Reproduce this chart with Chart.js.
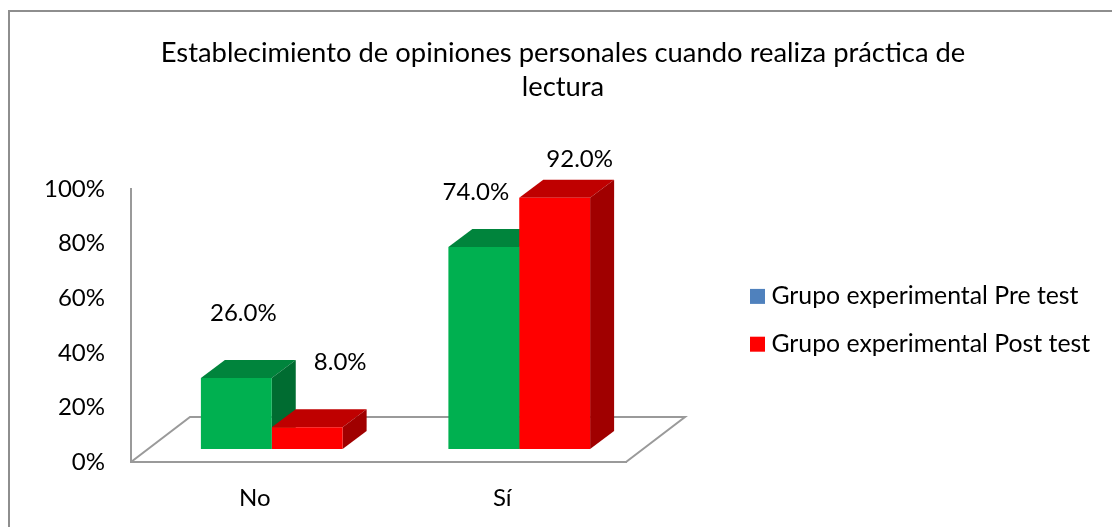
<!DOCTYPE html>
<html><head><meta charset="utf-8">
<style>html,body{margin:0;padding:0;background:#fff}canvas{display:block}</style>
<script src="https://cdn.jsdelivr.net/npm/chart.js@4/dist/chart.umd.js"></script>
</head><body>
<canvas id="c" width="1112" height="527" style="width:1112px;height:527px"></canvas>
<script>
const categories = ["No", "Sí"];
const seriesNames = ["Grupo experimental Pre test", "Grupo experimental Post test"];
const preTest = [26, 74];
const postTest = [8, 92];
const titleLines = ["Establecimiento de opiniones personales cuando realiza práctica de", "lectura"];

const FONT = "Lato, Carlito, Calibri, sans-serif";
const faces = [
  {front:"#00B050", top:"#00843C", side:"#006C31", legend:"#4F81BD"},
  {front:"#FF0000", top:"#BF0000", side:"#A00000", legend:"#FF0000"}
];
const SHIFT = {x:17, y:-13};     // bars stand in the middle of the floor's depth
const DEPTH = {x:24, y:-18};     // bar depth
const FLOOR = {x:59, y:-45};     // floor depth
const labelNudge = [[[7,-65],[-8,-55]],[[33,-65],[25,-39]]];

function poly(ctx, pts, fill){
  ctx.beginPath();
  pts.forEach((p,i)=> i?ctx.lineTo(p[0],p[1]):ctx.moveTo(p[0],p[1]));
  ctx.closePath();
  ctx.fillStyle = fill;
  ctx.fill();
}

const scene = {
  id:"scene",
  beforeDraw(chart){
    const ctx = chart.ctx;
    ctx.save();
    ctx.fillStyle = "#fff";
    ctx.fillRect(0,0,chart.width,chart.height);
    ctx.strokeStyle = "#8E8E8E";
    ctx.lineWidth = 2;
    ctx.beginPath();
    ctx.moveTo(9,527); ctx.lineTo(9,11); ctx.lineTo(1112,11);
    ctx.stroke();
    ctx.restore();
    // place title and legend where the reference has them
    const t = chart.titleBlock;
    t.left = 0; t.right = 1126; t.top = 36; t.bottom = 36 + t.height;
    const l = chart.legend;
    l.left = 733; l.right = 1110; l.top = 261; l.bottom = 600;
  },
  beforeDatasetsDraw(chart){
    const ctx = chart.ctx, a = chart.chartArea;
    ctx.save();
    ctx.strokeStyle = "#9A9A9A";
    ctx.lineWidth = 2;
    ctx.beginPath();
    ctx.moveTo(a.left,a.bottom);
    ctx.lineTo(a.left+FLOOR.x,a.bottom+FLOOR.y);
    ctx.lineTo(a.right+FLOOR.x,a.bottom+FLOOR.y);
    ctx.lineTo(a.right,a.bottom);
    ctx.stroke();
    ctx.translate(SHIFT.x,SHIFT.y);
    categories.forEach((_,ci)=>{
      [0,1].forEach(di=>{
        const b = chart.getDatasetMeta(di).data[ci];
        const L=b.x-b.width/2, R=b.x+b.width/2, T=b.y, B=b.base, f=faces[di];
        poly(ctx,[[L,T],[L+DEPTH.x,T+DEPTH.y],[R+DEPTH.x,T+DEPTH.y],[R,T]],f.top);
        poly(ctx,[[R,T],[R+DEPTH.x,T+DEPTH.y],[R+DEPTH.x,B+DEPTH.y],[R,B]],f.side);
      });
    });
    ctx.restore();
    ctx.save();
    ctx.translate(SHIFT.x,SHIFT.y);
  },
  afterDatasetsDraw(chart){
    const ctx = chart.ctx;
    ctx.restore();
    ctx.save();
    ctx.font = "24px "+FONT;
    ctx.fillStyle = "#000";
    ctx.textAlign = "center";
    ctx.textBaseline = "middle";
    chart.data.datasets.forEach((ds,di)=>{
      chart.getDatasetMeta(di).data.forEach((b,ci)=>{
        const n = labelNudge[di][ci];
        ctx.fillText(ds.data[ci].toFixed(1)+"%", b.x+SHIFT.x+n[0], b.y+SHIFT.y+n[1]);
      });
    });
    ctx.restore();
  }
};

new Chart(document.getElementById("c"),{
  type:"bar",
  data:{labels:categories,datasets:[
    {label:seriesNames[0],data:preTest,backgroundColor:faces[0].front,borderWidth:0,barPercentage:1,categoryPercentage:0.5726},
    {label:seriesNames[1],data:postTest,backgroundColor:faces[1].front,borderWidth:0,barPercentage:1,categoryPercentage:0.5726}
  ]},
  options:{
    responsive:false,animation:false,
    layout:{padding:{left:0,right:486,top:0,bottom:0}},
    scales:{
      y:{min:0,max:100,
        afterFit(s){s.width=131;},
        ticks:{stepSize:20,padding:18,color:"#000",font:{family:FONT,size:24},callback:v=>v+"%"},
        grid:{display:false},
        border:{color:"#9A9A9A",width:2}},
      x:{
        afterFit(s){s.height=65;},
        ticks:{padding:14,color:"#000",font:{family:FONT,size:24},maxRotation:0},
        grid:{display:false},
        border:{color:"#9A9A9A",width:2}}
    },
    plugins:{
      title:{display:true,text:titleLines,color:"#000",font:{family:FONT,size:27.4,weight:"normal",lineHeight:1.24},padding:{top:0,bottom:121}},
      legend:{position:"chartArea",align:"start",
        labels:{boxWidth:3,boxHeight:3,padding:23,color:"#000",font:{family:FONT,size:24.8},
          generateLabels(chart){
            return chart.data.datasets.map((d,i)=>({text:d.label,fillStyle:faces[i].legend,strokeStyle:faces[i].legend,lineWidth:12,lineJoin:"miter",datasetIndex:i,fontColor:"#000"}));
          }}},
      tooltip:{enabled:false}
    }
  },
  plugins:[scene]
});
</script>
</body></html>
